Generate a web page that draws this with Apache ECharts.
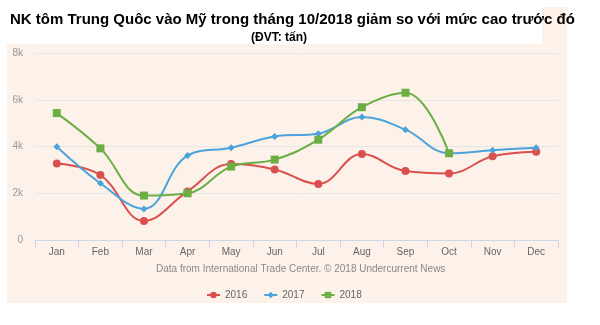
<!DOCTYPE html>
<html>
<head>
<meta charset="utf-8">
<script src="https://cdn.jsdelivr.net/npm/echarts@6/dist/echarts.min.js"></script>
<style>
  html, body { margin: 0; padding: 0; background: #ffffff; }
  #chart { width: 600px; height: 325px; }
</style>
</head>
<body>
<div id="chart"></div>
<script>
// Monthly shrimp imports from China into the US (tonnes)
const months = ['Jan', 'Feb', 'Mar', 'Apr', 'May', 'Jun', 'Jul', 'Aug', 'Sep', 'Oct', 'Nov', 'Dec'];
const imports2016 = [3270, 2780, 810, 2080, 3250, 3020, 2400, 3680, 2950, 2850, 3580, 3780];
const imports2017 = [3990, 2430, 1330, 3610, 3950, 4430, 4550, 5260, 4720, 3710, 3840, 3950];
const imports2018 = [5430, 3920, 1900, 2000, 3140, 3440, 4290, 5680, 6300, 3710, null, null];
const yTicks = [0, 2000, 4000, 6000, 8000];

const FONT = '"Liberation Sans", Arial, sans-serif';
const chart = echarts.init(document.getElementById('chart'), null, { renderer: 'canvas' });

function lineSeries(name, data, color, symbol, size) {
  return {
    name: name,
    type: 'line',
    data: data,
    smooth: 0.4,
    symbol: symbol,
    symbolSize: size,
    showAllSymbol: true,
    lineStyle: { color: color, width: 2 },
    itemStyle: { color: color },
    emphasis: { disabled: true }
  };
}

chart.setOption({
  backgroundColor: '#ffffff',
  animation: false,
  graphic: [
    { type: 'rect', left: 7, top: 7, shape: { width: 560, height: 296 }, style: { fill: '#fcf2ea' }, z: -10 },
    { type: 'rect', left: 7, top: 7, shape: { width: 535, height: 37 }, style: { fill: '#ffffff' }, z: -9 }
  ],
  title: [
    {
      text: 'NK tôm Trung Quôc vào Mỹ trong tháng 10/2018 giảm so với mức cao trước đó',
      left: 10, top: 12, padding: 0,
      textStyle: { fontFamily: FONT, fontSize: 15, fontWeight: 'bold', color: '#000000' }
    },
    {
      text: '(ĐVT: tấn)',
      left: 251, top: 32, padding: 0,
      textStyle: { fontFamily: FONT, fontSize: 12, fontWeight: 'bold', color: '#000000' }
    },
    {
      text: 'Data from International Trade Center. © 2018 Undercurrent News',
      left: 156, top: 264, padding: 0,
      textStyle: { fontFamily: FONT, fontSize: 10, fontWeight: 'normal', color: '#8a8a8a' }
    }
  ],
  legend: {
    top: 285, left: 201,
    itemWidth: 13, itemHeight: 8, itemGap: 16,
    textStyle: { fontFamily: FONT, fontSize: 10, color: '#666666' },
    data: ['2016', '2017', '2018']
  },
  grid: { left: 35, right: 42, top: 53, bottom: 85, containLabel: false },
  xAxis: {
    type: 'category',
    data: months,
    boundaryGap: true,
    axisLine: { lineStyle: { color: '#ccd6eb', width: 1 } },
    axisTick: { show: true, length: 8, lineStyle: { color: '#ccd6eb' } },
    axisLabel: { fontFamily: FONT, fontSize: 10, color: '#666666', margin: 7 },
    splitLine: { show: false }
  },
  yAxis: {
    type: 'value',
    min: yTicks[0], max: yTicks[yTicks.length - 1], interval: 2000,
    axisLine: { show: false },
    axisTick: { show: false },
    axisLabel: {
      fontFamily: FONT, fontSize: 10, color: '#999999', margin: 12,
      formatter: v => (v === 0 ? '0' : (v / 1000) + 'k')
    },
    splitLine: { lineStyle: { color: '#e6e6e6', width: 1 } }
  },
  series: [
    lineSeries('2016', imports2016, '#d9504e', 'circle', 8),
    lineSeries('2017', imports2017, '#4ba3dc', 'diamond', 7),
    lineSeries('2018', imports2018, '#6cae44', 'rect', 8)
  ]
});
</script>
</body>
</html>
